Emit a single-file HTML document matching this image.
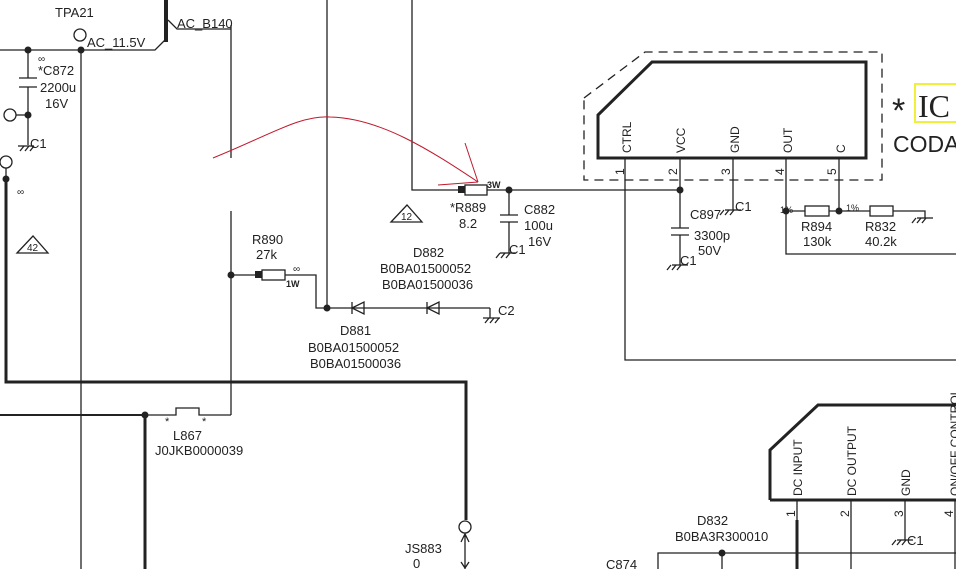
<!DOCTYPE html>
<html><head><meta charset="utf-8"><style>
html,body{margin:0;padding:0;background:#fff;}
svg{display:block;font-family:"Liberation Sans",sans-serif;font-size:13px;}
text{fill:#222;}
</style></head><body>
<svg width="956" height="569" viewBox="0 0 956 569" xmlns="http://www.w3.org/2000/svg">
<g stroke="#222" fill="none" stroke-width="1.3">
<polyline points="0,50 155,50 165,40"/>
<line x1="166" y1="0" x2="166" y2="42" stroke-width="4"/>
<polyline points="168,20 177,29 231,29"/>
<line x1="231" y1="25" x2="231" y2="158"/>
<line x1="231" y1="211" x2="231" y2="415"/>
<line x1="81" y1="50" x2="81" y2="569"/>
<circle cx="80" cy="35" r="6" fill="#fff"/>
<line x1="28" y1="50" x2="28" y2="78"/>
<line x1="19" y1="78" x2="37" y2="78"/><line x1="19" y1="87" x2="37" y2="87"/>
<line x1="28" y1="87" x2="28" y2="145"/>
<line x1="16" y1="115" x2="28" y2="115"/>
<circle cx="10" cy="115" r="6" fill="#fff"/>
<line x1="18" y1="146" x2="34" y2="146"/>
<path d="M20,151 l4,-5 M25,151 l4,-5 M30,151 l4,-5"/>
<circle cx="6" cy="162" r="6" fill="#fff"/>
<line x1="6" y1="168" x2="6" y2="179"/>
<polyline points="6,179 6,382 466,382 466,520" stroke-width="3"/>
<circle cx="465" cy="527" r="6" fill="#fff"/>
<path d="M465,533 V569 M461,542 l4,-8 l4,8 M461,562 l4,6 l4,-6"/>
<path d="M17,253 L33,236 L48,253 Z"/>
<path d="M391,222 L407,205 L422,222 Z"/>
<line x1="231" y1="275" x2="262" y2="275"/>
<rect x="262" y="270" width="23" height="10"/>
<polyline points="285,275 316,275 316,308 490,308"/>
<line x1="327" y1="0" x2="327" y2="308"/>
<path d="M352,302 V314 M352,308 L364,302 V314 Z"/>
<path d="M427,302 V314 M427,308 L439,302 V314 Z"/>
<line x1="490" y1="308" x2="490" y2="318"/>
<line x1="483" y1="318" x2="500" y2="318"/>
<path d="M485,323 l4,-5 M490,323 l4,-5 M495,323 l4,-5"/>
<line x1="0" y1="415" x2="145" y2="415" stroke-width="2"/>
<line x1="145" y1="415" x2="145" y2="569" stroke-width="3"/>
<polyline points="145,415 176,415 176,408 199,408 199,415 231,415"/>
<polyline points="412,0 412,190 465,190"/>
<rect x="465" y="185" width="22" height="10"/>
<line x1="487" y1="190" x2="680" y2="190"/>
<line x1="509" y1="190" x2="509" y2="215"/>
<line x1="500" y1="215" x2="518" y2="215"/><line x1="500" y1="222" x2="518" y2="222"/>
<line x1="509" y1="222" x2="509" y2="253"/>
<line x1="500" y1="253" x2="516" y2="253"/>
<path d="M496,258 l4,-5 M501,258 l4,-5 M506,258 l4,-5"/>
<path d="M598,115 L652,62 L866,62 L866,158 L598,158 Z" stroke-width="3"/>
<path d="M584,98 L645,52 L882,52 L882,180 L584,180 Z" stroke-dasharray="9,6"/>
<polyline points="625,158 625,360 956,360"/>
<line x1="680" y1="158" x2="680" y2="228"/>
<line x1="671" y1="228" x2="689" y2="228"/><line x1="671" y1="235" x2="689" y2="235"/>
<line x1="680" y1="235" x2="680" y2="265"/>
<line x1="672" y1="265" x2="688" y2="265"/>
<path d="M667,270 l4,-5 M672,270 l4,-5 M677,270 l4,-5"/>
<line x1="733" y1="158" x2="733" y2="210"/>
<line x1="725" y1="210" x2="741" y2="210"/>
<path d="M720,215 l4,-5 M725,215 l4,-5 M730,215 l4,-5"/>
<polyline points="786,158 786,254 956,254"/>
<line x1="786" y1="211" x2="805" y2="211"/>
<rect x="805" y="206" width="24" height="10"/>
<line x1="829" y1="211" x2="870" y2="211"/>
<line x1="839" y1="158" x2="839" y2="211"/>
<rect x="870" y="206" width="23" height="10"/>
<polyline points="893,211 925,211 925,218"/>
<line x1="917" y1="218" x2="933" y2="218"/>
<path d="M912,223 l4,-5 M917,223 l4,-5 M922,223 l4,-5"/>
<path d="M770,500 L770,450 L818,405 L956,405 M770,500 L956,500" stroke-width="3"/>
<line x1="797" y1="500" x2="797" y2="520"/>
<line x1="797" y1="520" x2="797" y2="569" stroke-width="3"/>
<line x1="851" y1="500" x2="851" y2="569"/>
<line x1="905" y1="500" x2="905" y2="540"/>
<line x1="897" y1="540" x2="913" y2="540"/>
<path d="M892,545 l4,-5 M897,545 l4,-5 M902,545 l4,-5"/>
<line x1="955" y1="500" x2="955" y2="569"/>
<polyline points="658,569 658,553 956,553"/>
<line x1="722" y1="553" x2="722" y2="569"/>
</g>
<g fill="#222">
<circle cx="28" cy="50" r="3.5"/><circle cx="81" cy="50" r="3.5"/><circle cx="28" cy="115" r="3.5"/>
<circle cx="6" cy="179" r="3.5"/><circle cx="231" cy="275" r="3.5"/><circle cx="327" cy="308" r="3.5"/>
<circle cx="145" cy="415" r="3.5"/><circle cx="509" cy="190" r="3.5"/><circle cx="680" cy="190" r="3.5"/>
<circle cx="786" cy="211" r="3.5"/><circle cx="839" cy="211" r="3.5"/><circle cx="722" cy="553" r="3.5"/>
<rect x="255" y="271" width="7" height="7"/><rect x="458" y="186" width="7" height="7"/>
</g>
<g stroke="#c0182c" fill="none" stroke-width="1">
<path d="M213,158 C270,135 300,115 330,117 C380,118 430,150 478,182"/>
<line x1="465" y1="143" x2="478" y2="182"/>
<line x1="438" y1="185" x2="478" y2="182"/>
</g>
<text x="55" y="17">TPA21</text>
<text x="87" y="47">AC_11.5V</text>
<text x="177" y="28">AC_B140</text>
<text x="38" y="62" font-size="10">∞</text>
<text x="38" y="75">*C872</text>
<text x="40" y="92">2200u</text>
<text x="45" y="108">16V</text>
<text x="30" y="148">C1</text>
<text x="17" y="195" font-size="10">∞</text>
<text x="27" y="251" font-size="10">42</text>
<text x="401" y="220" font-size="10">12</text>
<text x="252" y="244">R890</text>
<text x="256" y="259">27k</text>
<text x="293" y="272" font-size="10">∞</text>
<text x="286" y="287" font-size="9" font-weight="bold">1W</text>
<text x="487" y="188" font-size="9" font-weight="bold">3W</text>
<text x="450" y="212">*R889</text>
<text x="459" y="228">8.2</text>
<text x="524" y="214">C882</text>
<text x="524" y="230">100u</text>
<text x="528" y="246">16V</text>
<text x="509" y="254">C1</text>
<text x="413" y="257">D882</text>
<text x="380" y="273">B0BA01500052</text>
<text x="382" y="289">B0BA01500036</text>
<text x="498" y="315">C2</text>
<text x="340" y="335">D881</text>
<text x="308" y="352">B0BA01500052</text>
<text x="310" y="368">B0BA01500036</text>
<text x="165" y="425" font-size="11">*</text><text x="202" y="425" font-size="11">*</text>
<text x="173" y="440">L867</text>
<text x="155" y="455">J0JKB0000039</text>
<text x="405" y="553">JS883</text>
<text x="413" y="568">0</text>
<text x="690" y="219">C897</text>
<text x="735" y="211">C1</text>
<text x="694" y="240">3300p</text>
<text x="698" y="255">50V</text>
<text x="680" y="265">C1</text>
<text x="780" y="213" font-size="9">1%</text>
<text x="846" y="211" font-size="9">1%</text>
<text x="801" y="231">R894</text>
<text x="803" y="246">130k</text>
<text x="865" y="231">R832</text>
<text x="865" y="246">40.2k</text>
<text x="892" y="122" font-size="34">*</text>
<rect x="915" y="84" width="45" height="38" fill="none" stroke="#f2ef3a" stroke-width="2"/>
<text x="918" y="117" font-size="32" font-family="Liberation Serif, serif">IC</text>
<text x="893" y="152" font-size="23">CODA</text>
<text x="697" y="525">D832</text>
<text x="675" y="541">B0BA3R300010</text>
<text x="907" y="545">C1</text>
<text x="606" y="569">C874</text>
<g font-size="12">
<text transform="translate(631,153) rotate(-90)">CTRL</text>
<text transform="translate(685,153) rotate(-90)">VCC</text>
<text transform="translate(739,153) rotate(-90)">GND</text>
<text transform="translate(792,153) rotate(-90)">OUT</text>
<text transform="translate(845,153) rotate(-90)">C</text>
<text transform="translate(624,175) rotate(-90)">1</text>
<text transform="translate(677,175) rotate(-90)">2</text>
<text transform="translate(730,175) rotate(-90)">3</text>
<text transform="translate(784,175) rotate(-90)">4</text>
<text transform="translate(836,175) rotate(-90)">5</text>
<text transform="translate(802,496) rotate(-90)">DC INPUT</text>
<text transform="translate(856,496) rotate(-90)">DC OUTPUT</text>
<text transform="translate(910,496) rotate(-90)">GND</text>
<text transform="translate(959,496) rotate(-90)">ON/OFF CONTROL</text>
<text transform="translate(795,517) rotate(-90)">1</text>
<text transform="translate(849,517) rotate(-90)">2</text>
<text transform="translate(903,517) rotate(-90)">3</text>
<text transform="translate(953,517) rotate(-90)">4</text>
</g>
</svg>
</body></html>
